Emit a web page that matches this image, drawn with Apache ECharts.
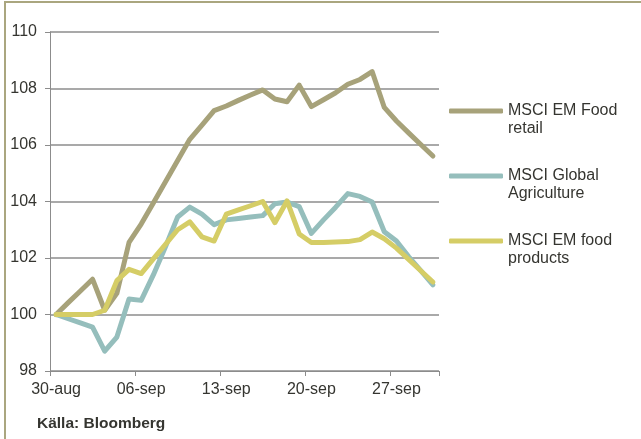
<!DOCTYPE html>
<html>
<head>
<meta charset="utf-8">
<script src="https://cdn.jsdelivr.net/npm/echarts@6/dist/echarts.min.js"></script>
<style>
  html, body { margin: 0; padding: 0; background: #fff; overflow: hidden; }
  #frame { position: absolute; left: 4px; top: 1px; width: 635px; height: 436px;
           border-top: 2px solid #aaa67f; border-left: 2px solid #aaa67f; }
  #chart { position: absolute; left: 0; top: 0; width: 641px; height: 439px; }
</style>
</head>
<body>
<div id="frame"></div>
<div id="chart"></div>
<script>
// Daily index levels, 30 Aug = 100
const dates = ['30-aug','31-aug','01-sep','02-sep','03-sep','04-sep','05-sep',
  '06-sep','07-sep','08-sep','09-sep','10-sep','11-sep','12-sep',
  '13-sep','14-sep','15-sep','16-sep','17-sep','18-sep','19-sep',
  '20-sep','21-sep','22-sep','23-sep','24-sep','25-sep','26-sep',
  '27-sep','28-sep','29-sep','30-sep'];

const foodRetail = [100, 100.42, 100.83, 101.25, 100.15, 100.75, 102.55,
  103.2, 103.95, 104.7, 105.45, 106.2, 106.7, 107.22,
  107.38, 107.58, 107.77, 107.95, 107.63, 107.53, 108.12,
  107.36, 107.6, 107.85, 108.15, 108.32, 108.6, 107.33,
  106.85, 106.43, 106.02, 105.61];

const globalAgri = [100, 99.85, 99.7, 99.55, 98.7, 99.2, 100.55,
  100.5, 101.4, 102.4, 103.45, 103.8, 103.55, 103.18,
  103.35, 103.4, 103.45, 103.5, 103.92, 103.98, 103.82,
  102.87, 103.35, 103.8, 104.28, 104.18, 103.98, 102.93,
  102.6, 102.05, 101.55, 101.05];

const foodProducts = [100, 100, 100, 100, 100.15, 101.2, 101.6,
  101.45, 101.97, 102.48, 103.0, 103.28, 102.75, 102.6,
  103.55, 103.7, 103.85, 104.0, 103.25, 104.02, 102.85,
  102.55, 102.55, 102.57, 102.58, 102.65, 102.92, 102.68,
  102.35, 101.95, 101.55, 101.15];

const seriesNames = ['MSCI EM Food retail', 'MSCI Global Agriculture', 'MSCI EM food products'];
const legendLines = {
  'MSCI EM Food retail': ['MSCI EM Food', 'retail'],
  'MSCI Global Agriculture': ['MSCI Global', 'Agriculture'],
  'MSCI EM food products': ['MSCI EM food', 'products']
};
const yTicks = { min: 98, max: 110, step: 2 };
const sourceText = 'Källa: Bloomberg';

const colors = ['#a7a27a', '#95bebc', '#d5cd66'];
const FONT = '"Liberation Sans", Arial, sans-serif';
const TEXT = '#353530';

const chart = echarts.init(document.getElementById('chart'), null, { renderer: 'canvas' });

const values = [foodRetail, globalAgri, foodProducts];

chart.setOption({
  animation: false,
  backgroundColor: 'transparent',
  color: colors,
  textStyle: { fontFamily: FONT },
  title: {
    text: sourceText,
    left: 37,
    top: 416,
    padding: 0,
    textStyle: { fontFamily: FONT, fontSize: 15.5, fontWeight: 'bold', color: TEXT }
  },
  grid: { left: 50, right: 202, top: 32, bottom: 68, containLabel: false },
  legend: {
    orient: 'vertical',
    left: 449,
    top: 84,
    padding: 0,
    itemGap: 11,
    itemWidth: 54,
    itemHeight: 5,
    icon: 'roundRect',
    data: seriesNames,
    // a blank first line keeps the key line level with the first text line
    formatter: name => '\u00a0\n' + legendLines[name].join('\n'),
    textStyle: {
      fontFamily: FONT, fontSize: 16, color: TEXT, lineHeight: 18
    }
  },
  xAxis: {
    type: 'category',
    data: dates,
    boundaryGap: true,
    axisLine: { lineStyle: { color: '#8c8c8c', width: 1 } },
    axisTick: { show: true, interval: 6, length: 5, alignWithLabel: false,
                lineStyle: { color: '#8c8c8c' } },
    axisLabel: { interval: 6, margin: 11, fontFamily: FONT, fontSize: 16, color: TEXT },
    splitLine: { show: false }
  },
  yAxis: {
    type: 'value',
    min: yTicks.min,
    max: yTicks.max,
    interval: yTicks.step,
    axisLine: { show: true, lineStyle: { color: '#8c8c8c', width: 1 } },
    axisTick: { show: true, length: 5, lineStyle: { color: '#8c8c8c' } },
    axisLabel: { margin: 13, fontFamily: FONT, fontSize: 16, color: TEXT },
    splitLine: { show: true, lineStyle: { color: '#8c8c8c', width: 1.5 } }
  },
  series: seriesNames.map((name, k) => ({
    name: name,
    type: 'line',
    data: values[k],
    symbol: 'none',
    smooth: false,
    lineStyle: { width: 5, color: colors[k], cap: 'round', join: 'round' },
    itemStyle: { color: colors[k] }
  }))
});
</script>
</body>
</html>
